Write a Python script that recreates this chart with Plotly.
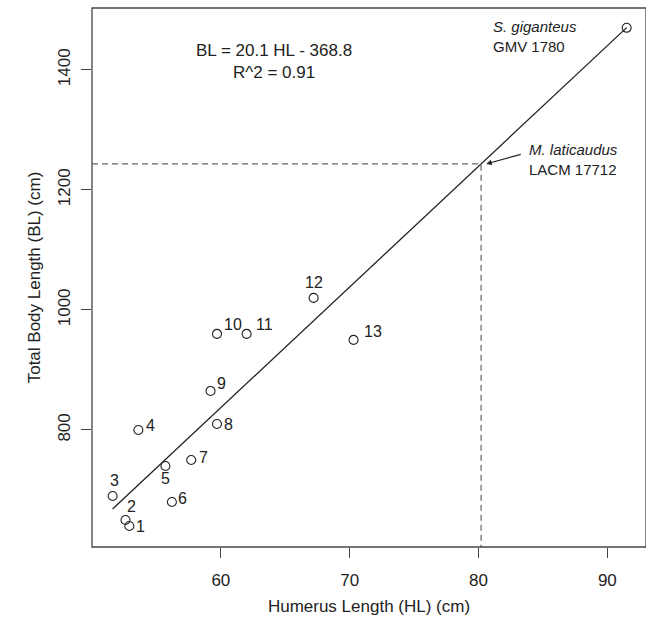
import plotly.graph_objects as go

# ---- data ----
specimen_ids = ["1", "2", "3", "4", "5", "6", "7", "8", "9", "10", "11", "12", "13"]
humerus_len = [52.9, 52.6, 51.6, 53.6, 55.7, 56.2, 57.7, 59.7, 59.2, 59.7, 62.0, 67.2, 70.3]
body_len = [640, 650, 690, 800, 740, 680, 750, 810, 865, 960, 960, 1020, 950]

giganteus_hl = 91.5
giganteus_bl = 1470
laticaudus_hl = 80.2
slope = 20.1
intercept = -368.8

x_ticks = [60, 70, 80, 90]
y_ticks = [800, 1000, 1200, 1400]

# label centre offsets (pixels) per specimen: (dx, dy)
label_offsets = [(11, -1), (6, 13), (2, 15), (12, 4), (0, -13), (11, 3), (12, 2),
                 (12, -1), (11, 7), (12, 9), (13, 9), (0, 15), (15, 8)]

FONT = "Liberation Sans, Arial, Helvetica, sans-serif"
INK = "#222222"

x_range = [50.0, 93.0]
y_range = [605, 1503]

fig = go.Figure()

# regression line over data extent
all_hl = humerus_len + [giganteus_hl]
x0, x1 = min(all_hl), max(all_hl)
fig.add_trace(go.Scatter(
    x=[x0, x1], y=[slope * x0 + intercept, slope * x1 + intercept],
    mode="lines", line=dict(color=INK, width=1.3), hoverinfo="skip", showlegend=False))

# dashed guide lines for M. laticaudus
lat_bl = slope * laticaudus_hl + intercept
fig.add_trace(go.Scatter(
    x=[x_range[0], laticaudus_hl, laticaudus_hl], y=[lat_bl, lat_bl, y_range[0]],
    mode="lines", line=dict(color="#666666", width=1.2, dash="6px,4px"),
    hoverinfo="skip", showlegend=False))

# points
fig.add_trace(go.Scatter(
    x=humerus_len + [giganteus_hl], y=body_len + [giganteus_bl],
    mode="markers",
    marker=dict(symbol="circle-open", size=9, color=INK, line=dict(width=1.1)),
    showlegend=False))

# specimen number labels
for sid, hx, by, (dx, dy) in zip(specimen_ids, humerus_len, body_len, label_offsets):
    w = 4.5 * len(sid)
    fig.add_annotation(x=hx, y=by, text=sid, showarrow=False,
                       xanchor="center", yanchor="middle",
                       xshift=dx + (w - 4.5 if dx > 4 else 0), yshift=dy,
                       font=dict(family=FONT, size=16, color=INK))

# equation text
fig.add_annotation(x=64.1, y=1414, text="BL = 20.1 HL - 368.8<br>R^2 = 0.91",
                   showarrow=False, xanchor="center", yanchor="middle", align="center",
                   font=dict(family=FONT, size=17, color=INK))

# S. giganteus label
fig.add_annotation(x=81.0, y=1456, text="<i>S. giganteus</i><br>GMV 1780",
                   showarrow=False, xanchor="left", yanchor="middle", align="left",
                   font=dict(family=FONT, size=15, color=INK))

# M. laticaudus label
fig.add_annotation(x=83.8, y=1250, text="<i>M. laticaudus</i><br>LACM 17712",
                   showarrow=False, xanchor="left", yanchor="middle", align="left",
                   font=dict(family=FONT, size=15, color=INK))
# arrow
fig.add_annotation(x=80.6, y=lat_bl, ax=36, ay=-10, text="", showarrow=True,
                   arrowhead=2, arrowsize=1, arrowwidth=1.1, arrowcolor=INK,
                   xref="x", yref="y", axref="pixel", ayref="pixel")

# frame
fig.add_shape(type="rect", xref="paper", yref="paper", x0=0, x1=1.0, y0=0, y1=1,
              line=dict(color="#444444", width=1.3))

fig.update_layout(
    width=646, height=618,
    margin=dict(l=92, r=0, t=8, b=71, autoexpand=False),
    paper_bgcolor="white", plot_bgcolor="white",
    font=dict(family=FONT, size=16, color=INK),
    xaxis=dict(range=x_range, tickvals=x_ticks, ticks="outside", ticklen=10,
               tickcolor="#444444", tickwidth=1.2, showgrid=False, zeroline=False,
               showline=False, tickfont=dict(size=17, color=INK), automargin=False,
               ticklabelstandoff=8,
               title=dict(text="Humerus Length (HL) (cm)", font=dict(size=17, color=INK),
                          standoff=10)),
    yaxis=dict(range=y_range, tickvals=y_ticks, ticks="outside", ticklen=10,
               tickcolor="#444444", tickwidth=1.2, showgrid=False, zeroline=False,
               showline=False, tickangle=-90, tickfont=dict(size=17, color=INK),
               automargin=False, ticklabelstandoff=4,
               title=dict(text="Total Body Length (BL) (cm)", font=dict(size=17, color=INK),
                          standoff=10)),
)

fig.write_html("out.html", config={"displayModeBar": False},
               post_script="document.body.style.margin='0';document.body.style.overflow='hidden';")
